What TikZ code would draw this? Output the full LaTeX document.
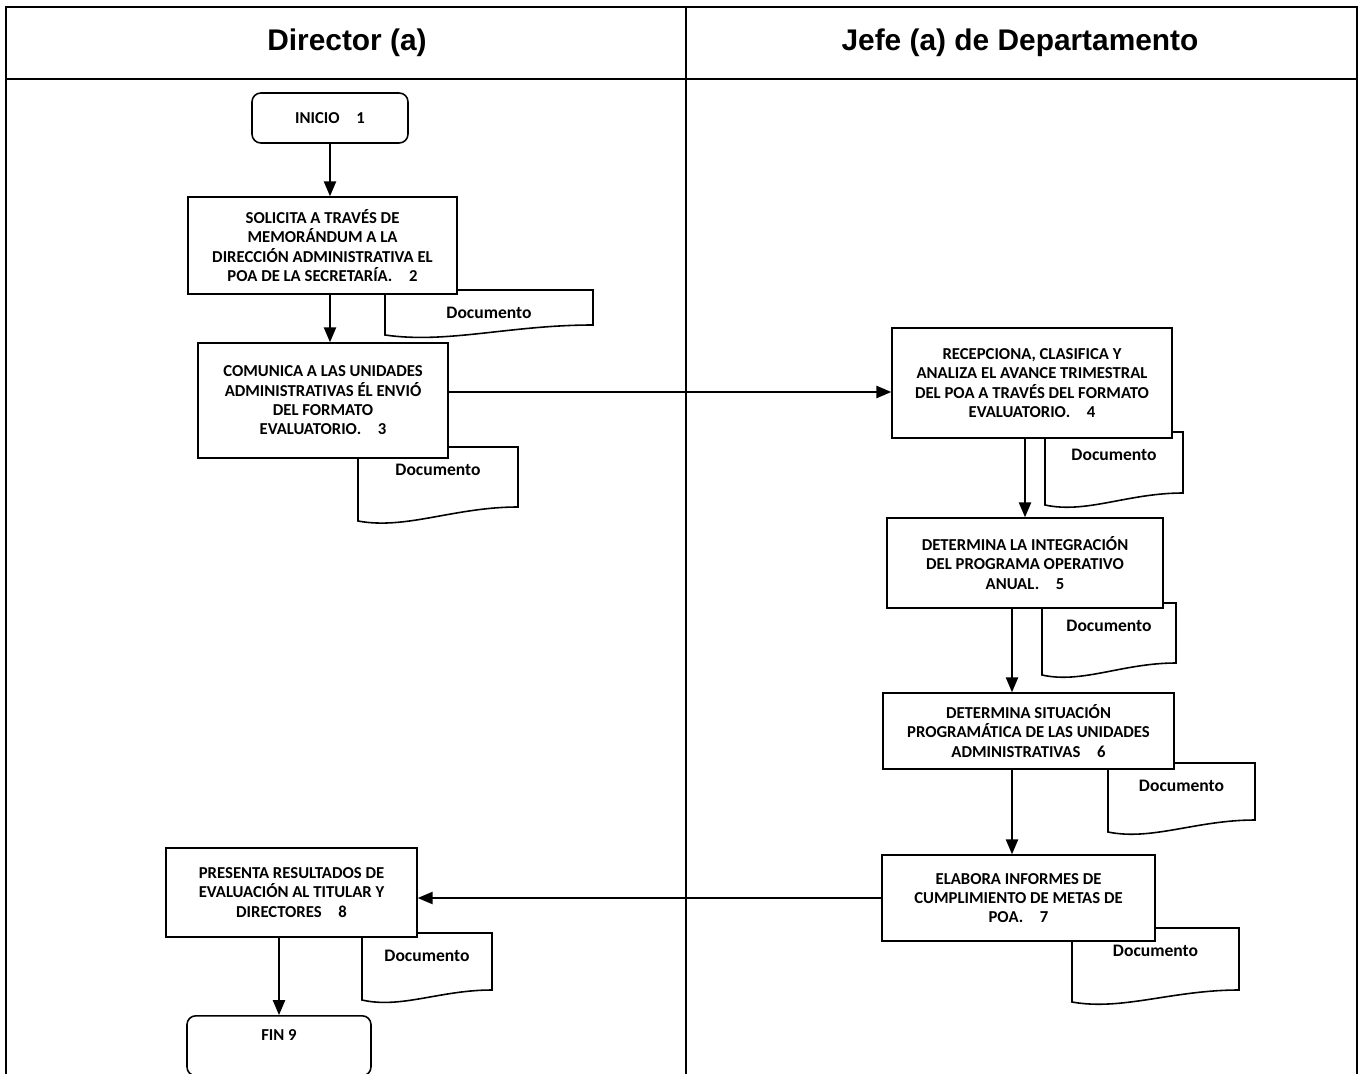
\documentclass[tikz,border=0pt]{standalone}
\usepackage{fontspec}
\setmainfont{Carlito}
\newfontfamily\encabezado{Liberation Sans}
\usetikzlibrary{positioning,arrows.meta,calc}

\begin{document}
\begin{tikzpicture}[
  x=0.02cm, y=-0.02cm,
  line width=0.9pt,
  every node/.style={font=\bfseries\fontsize{9.5}{11}\selectfont},
  proceso/.style={draw, fill=white, align=center, inner sep=0pt},
  terminal/.style={proceso, rounded corners=5pt},
  flecha/.style={-{Triangle[length=8.5pt,width=7pt]}},
  titulo/.style={font=\encabezado\bfseries\fontsize{17}{20}\selectfont}
]

\clip (0,0) rectangle (1359,1074);

% marco y carriles
\draw (6,1090) -- (6,7) -- (1357,7) -- (1357,1090);
\draw (6,79) -- (1357,79);
\draw (686,7) -- (686,1090);

\node[titulo] (director) at (347,43) {Director (a)};
\node[titulo] (jefe) at (1020,43) {Jefe (a) de Departamento};

% documentos (debajo de las cajas)
\foreach \xa/\ya/\xb/\yb/\yc/\k in {
    385/290/593/335/325/2,
    358/447/518/521/507/3,
    1045/432/1183/505/493/4,
    1042/603/1176/675/663/5,
    1108/763/1255/832/820/6,
    1072/928/1239/1002/990/7,
    362/933/492/1000/990/8}{
  \draw[fill=white]
    (\xa,\ya) -- (\xb,\ya) -- (\xb,\yc)
    .. controls ({\xa+0.6*(\xb-\xa)},\yc) and ({\xa+0.3*(\xb-\xa)},{\yb+9}) .. (\xa,\yb)
    -- cycle;
  \node[font=\bfseries\fontsize{10}{12}\selectfont] (doc\k)
    at ({(\xa+\xb)/2},{\ya+23}) {Documento};
}

% Director (a)
\node[terminal, minimum width=3.12cm, minimum height=1.0cm] (inicio)
  at (330,118) {INICIO\quad 1};
\node[proceso, minimum width=5.38cm, minimum height=1.94cm] (p2) at (322.5,245.5)
  {SOLICITA A TRAVÉS DE\\ MEMORÁNDUM A LA\\ DIRECCIÓN ADMINISTRATIVA EL\\
   POA DE LA SECRETARÍA.\quad 2};
\node[proceso, minimum width=5.0cm, minimum height=2.3cm] (p3) at (323,400.5)
  {COMUNICA A LAS UNIDADES\\ ADMINISTRATIVAS ÉL ENVIÓ\\ DEL FORMATO\\
   EVALUATORIO.\quad 3};

% Jefe (a) de Departamento
\node[proceso, minimum width=5.6cm, minimum height=2.2cm] (p4) at (1032,383)
  {RECEPCIONA, CLASIFICA Y\\ ANALIZA EL AVANCE TRIMESTRAL\\
   DEL POA A TRAVÉS DEL FORMATO\\ EVALUATORIO.\quad 4};
\node[proceso, minimum width=5.52cm, minimum height=1.8cm] (p5) at (1025,563)
  {DETERMINA LA INTEGRACIÓN\\ DEL PROGRAMA OPERATIVO\\ ANUAL.\quad 5};
\node[proceso, minimum width=5.82cm, minimum height=1.52cm] (p6) at (1028.5,731)
  {DETERMINA SITUACIÓN\\ PROGRAMÁTICA DE LAS UNIDADES\\ ADMINISTRATIVAS\quad 6};
\node[proceso, minimum width=5.46cm, minimum height=1.72cm] (p7) at (1018.5,898)
  {ELABORA INFORMES DE\\ CUMPLIMIENTO DE METAS DE\\ POA.\quad 7};

% regreso al Director (a)
\node[proceso, minimum width=5.02cm, minimum height=1.78cm] (p8) at (291.5,892.5)
  {PRESENTA RESULTADOS DE\\ EVALUACIÓN AL TITULAR Y\\ DIRECTORES\quad 8};
\node[terminal, minimum width=3.68cm, text height=0.5cm, text depth=0.7cm,
  anchor=north] (fin) at (279,1015) {FIN 9};

% flechas
\draw[flecha] (inicio.south) -- (inicio.south |- p2.north);
\draw[flecha] (p2.south -| inicio.south) -- (p3.north -| inicio.south);
\draw[flecha] ($(p3.east)+(0,-8.5)$) -- ($(p3.east -| p4.west)+(0,-8.5)$);
\draw[flecha] (p5.north |- p4.south) -- (p5.north);
\draw[flecha] ($(p5.south)+(-13,0)$) -- ($(p5.south |- p6.north)+(-13,0)$);
\draw[flecha] ($(p7.north |- p6.south)+(-6.5,0)$) -- ($(p7.north)+(-6.5,0)$);
\draw[flecha] (p7.west) -- (p7.west -| p8.east);
\draw[flecha] (fin.north |- p8.south) -- (fin.north);

\end{tikzpicture}
\end{document}
